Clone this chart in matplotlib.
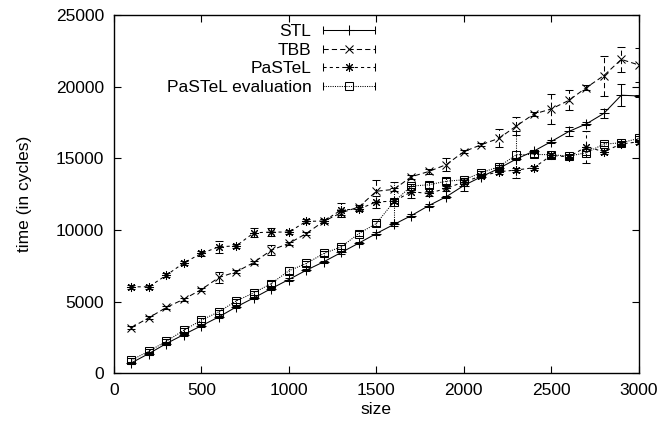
import numpy as np
import matplotlib
matplotlib.use('Agg')
import matplotlib.pyplot as plt
from matplotlib.lines import Line2D
from matplotlib.legend_handler import HandlerLine2D, HandlerTuple

plt.rcParams['font.family'] = ['Liberation Sans', 'DejaVu Sans']

# problem sizes
sizes = [100, 200, 300, 400, 500, 600, 700, 800, 900, 1000,
         1100, 1200, 1300, 1400, 1500, 1600, 1700, 1800, 1900, 2000,
         2100, 2200, 2300, 2400, 2500, 2600, 2700, 2800, 2900, 3000]

stl = [720, 1370, 2070, 2700, 3310, 3930, 4630, 5260, 5910, 6540,
       7190, 7780, 8430, 9080, 9750, 10380, 11000, 11700, 12320, 13100,
       13710, 14290, 14950, 15500, 16170, 16870, 17400, 18130, 19400, 19350]
stl_err = [80, 80, 80, 80, 80, 80, 80, 80, 80, 80,
           80, 80, 80, 80, 80, 80, 80, 80, 80, 400,
           100, 100, 100, 100, 100, 300, 100, 300, 750, 100]

tbb = [3190, 3870, 4590, 5170, 5840, 6680, 7080, 7730, 8590, 9060,
       9750, 10610, 11200, 11600, 12700, 12830, 13710, 14080, 14560, 15460,
       15950, 16390, 17250, 18090, 18440, 19040, 19930, 20770, 21900, 21510]
tbb_err = [100, 100, 100, 100, 100, 400, 100, 100, 350, 100,
           100, 150, 150, 150, 750, 100, 150, 150, 450, 100,
           100, 630, 650, 150, 1080, 700, 150, 1400, 900, 1200]

pastel = [6030, 6030, 6840, 7700, 8360, 8820, 8890, 9800, 9850, 9850,
          10600, 10620, 11400, 11450, 11960, 12000, 12660, 12550, 12900, 13350,
          13760, 14060, 14180, 14340, 15200, 15100, 15800, 15460, 16000, 16150]
pastel_err = [150, 150, 150, 150, 150, 400, 150, 300, 300, 150,
              150, 150, 500, 150, 400, 150, 400, 200, 200, 300,
              150, 150, 150, 150, 150, 150, 1100, 150, 150, 150]

pastel_eval = [910, 1540, 2230, 3000, 3700, 4290, 5050, 5610, 6260, 7150,
               7660, 8360, 8820, 9750, 10450, 11960, 13060, 13150, 13400, 13500,
               13990, 14410, 15250, 15270, 15250, 15150, 15390, 15990, 16080, 16390]
pastel_eval_err = [150, 150, 150, 150, 150, 150, 150, 150, 150, 250,
                   150, 150, 150, 150, 150, 1400, 150, 200, 200, 150,
                   150, 150, 1650, 150, 150, 150, 150, 150, 150, 150]

fig = plt.figure(figsize=(6.62, 4.28), dpi=100)
ax = fig.add_axes([0.172, 0.128, 0.793, 0.837])

series = [
    ('STL', stl, stl_err, '-', '+', 7),
    ('TBB', tbb, tbb_err, (0, (5, 3)), 'x', 5.5),
    ('PaSTeL', pastel, pastel_err, (0, (3, 3)), (8, 2, 0), 6.5),
    ('PaSTeL evaluation', pastel_eval, pastel_eval_err, (0, (1, 1.2)), 's', 5.5),
]

handles = []
hmap = {}
for name, vals, err, ls, mk, ms in series:
    eb = ax.errorbar(sizes, vals, yerr=err, color='black', linestyle=ls,
                     linewidth=0.75, marker=mk, markersize=ms,
                     markerfacecolor='none', markeredgewidth=0.75,
                     capsize=3, elinewidth=0.75, capthick=0.75)
    for c in eb[2]:
        c.set_linestyle(ls)
    # legend sample: line + marker, with error caps at both ends
    main = Line2D([], [], color='black', linestyle=ls, linewidth=0.75,
                  marker=mk, markersize=ms, markerfacecolor='none',
                  markeredgewidth=0.75)
    caps = Line2D([], [], color='black', linestyle='none', marker='|',
                  markersize=6, markeredgewidth=0.75)
    hmap[caps] = HandlerLine2D(numpoints=2, marker_pad=0)
    handles.append((main, caps))

hmap[tuple] = HandlerTuple(ndivide=1, pad=0)

ax.set_xlim(0, 3000)
ax.set_ylim(0, 25000)
ax.set_xticks([0, 500, 1000, 1500, 2000, 2500, 3000])
ax.set_yticks([0, 5000, 10000, 15000, 20000, 25000])
ax.tick_params(direction='in', top=True, right=True, length=5, width=0.8,
               labelsize=12.5, pad=7)
for s in ax.spines.values():
    s.set_linewidth(1.0)

ax.set_xlabel('size', fontsize=12.5, labelpad=3)
ax.set_ylabel('time (in cycles)', fontsize=12.5, labelpad=17)

ax.legend(handles=handles, labels=[s[0] for s in series], handler_map=hmap,
          loc='upper right', bbox_to_anchor=(0.505, 0.985),
          frameon=False, markerfirst=False, fontsize=12.5, handlelength=3.0,
          handletextpad=0.7, labelspacing=0.2, borderpad=0.2,
          borderaxespad=0.0, numpoints=1)

fig.savefig('out.png', dpi=100)
